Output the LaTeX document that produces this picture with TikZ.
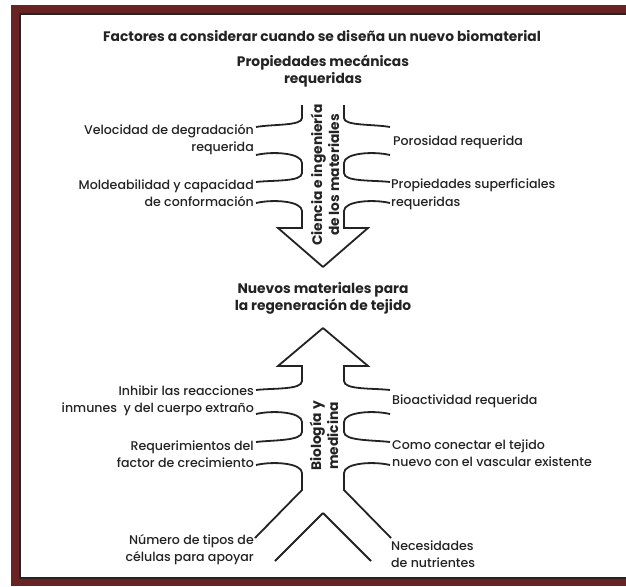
\documentclass[tikz,border=0pt]{standalone}
\usepackage{fontspec}
\setmainfont{Poppins}[UprightFont={* Medium}, BoldFont={* Bold}]
\usepackage{tikz}
\definecolor{granate}{RGB}{106,35,35}
\definecolor{tinta}{RGB}{35,35,35}
\tikzset{
	texto/.style = {inner sep=0pt, text=tinta,
		font=\fontsize{12.6}{17.5}\selectfont},
	et_izq/.style = {texto, anchor=east, align=right},% etiqueta izquierda
	et_der/.style = {texto, anchor=west, align=left},% etiqueta derecha
	titulo/.style = {texto, align=center,
		font=\bfseries\fontsize{13.8}{17}\selectfont},% texto central
	vertical/.style = {titulo, rotate=90},% texto dentro de la flecha
	contorno/.style = {draw=tinta, line width=1.8pt}
}

\begin{document}
\begin{tikzpicture}[x=1pt,y=-1pt]
\useasboundingbox (0,0) rectangle (626,586);
% marco
\fill[granate] (11,5) rectangle (626,586);
\fill[white] (20,14) rectangle (626,578);
\draw[tinta, line width=1.5pt] (626,14) -- (20,14) -- (20,578) -- (626,578);

\node [titulo] (factores) at (322,36) {Factores a considerar cuando se diseña un nuevo biomaterial};
\node [titulo] (mecanicas) at (323,71.5) {Propiedades mecánicas\\requeridas};
\node [titulo] (nuevos) at (323,298) {Nuevos materiales para\\la regeneración de tejido};

% flechas (mitad izquierda, reflejada a la derecha)
\foreach \s in {1,-1}{
\begin{scope}[shift={(323,0)}, xscale=\s]
	\draw [contorno] (-21,105) -- (-21,118) .. controls (-21,126) and (-50,124) .. (-67,127);
	\draw [contorno] (-67,155) .. controls (-50,151) and (-21,153) .. (-21,163)
		-- (-21,173) .. controls (-21,182) and (-50,180) .. (-67,182);
	\draw [contorno] (-67,203) .. controls (-50,199) and (-21,201) .. (-21,211)
		-- (-21,228) -- (-45,228) -- (0,267);
	\draw [contorno] (0,328) -- (-45,366) -- (-21,366) -- (-21,381)
		.. controls (-21,390) and (-50,388) .. (-67,390);
	\draw [contorno] (-67,414) .. controls (-50,410) and (-21,412) .. (-21,422)
		-- (-21,432) .. controls (-21,441) and (-50,440) .. (-67,442);
	\draw [contorno] (-67,465) .. controls (-50,461) and (-21,463) .. (-21,473)
		-- (-21,490) -- (-68,538);
	\draw [contorno] (-48,561) -- (0,513);
\end{scope}
}

\node [vertical] (ciencia) at (325,175) {Ciencia e ingeniería\\de los materiales};
\node [vertical] (biologia) at (324,436) {Biología y\\medicina};

% etiquetas izquierda
\node [et_izq] (velocidad) at (254,139.5) {Velocidad de degradación\\requerida};
\node [et_izq] (moldeabilidad) at (254,193) {Moldeabilidad y capacidad\\de conformación};
\node [et_izq] (inhibir) at (254,401) {Inhibir las reacciones\\inmunes \ y del cuerpo extraño};
\node [et_izq] (crecimiento) at (254,454) {Requerimientos del\\factor de crecimiento};
\node [et_izq] (celulas) at (254,549.5) {Número de tipos de\\células para apoyar};

% etiquetas derecha
\node [et_der] (porosidad) at (393,142) {Porosidad requerida};
\node [et_der] (superficiales) at (391,194.5) {Propiedades superficiales\\requeridas};
\node [et_der] (bioactividad) at (392,401) {Bioactividad requerida};
\node [et_der] (conectar) at (392,453) {Como conectar el tejido\\nuevo con el vascular existente};
\node [et_der] (nutrientes) at (391,554) {Necesidades\\de nutrientes};
\end{tikzpicture}
\end{document}
